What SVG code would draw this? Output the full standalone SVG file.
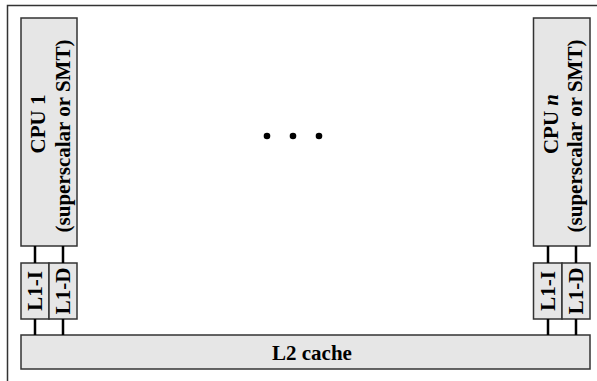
<svg xmlns="http://www.w3.org/2000/svg" width="597" height="381" viewBox="0 0 597 381">
<style>
.box{fill:#e6e6e6;stroke:#333;stroke-width:1.5}
.t{font-weight:bold;font-size:21px;fill:#000;text-anchor:middle}
.c{stroke:#000;stroke-width:2.5;fill:none}
</style>
<rect width="597" height="381" fill="#fff"/>
<path d="M7.5 381V5.5H597" fill="none" stroke="#333" stroke-width="1.5"/>
<g font-family="Liberation Serif, Times New Roman, serif">
<g id="cpu1">
<rect class="box" x="21" y="18" width="56" height="228"/>
<text class="t" transform="translate(45 124) rotate(-90)">CPU 1</text>
<text class="t" transform="translate(69.5 136) rotate(-90)">(superscalar or SMT)</text>
</g>
<g id="cpun">
<rect class="box" x="533.5" y="18" width="56.5" height="228"/>
<text class="t" transform="translate(557.5 124) rotate(-90)">CPU <tspan font-style="italic">n</tspan></text>
<text class="t" transform="translate(582 136) rotate(-90)">(superscalar or SMT)</text>
</g>
<g id="l1i1">
<rect class="box" x="21" y="263" width="28" height="56"/>
<text class="t" transform="translate(42 291) rotate(-90)">L1-I</text>
</g>
<g id="l1d1">
<rect class="box" x="49" y="263" width="28" height="56"/>
<text class="t" transform="translate(70 291) rotate(-90)">L1-D</text>
</g>
<g id="l1in">
<rect class="box" x="533.5" y="263" width="28.5" height="56"/>
<text class="t" transform="translate(554.5 291) rotate(-90)">L1-I</text>
</g>
<g id="l1dn">
<rect class="box" x="562" y="263" width="28" height="56"/>
<text class="t" transform="translate(583 291) rotate(-90)">L1-D</text>
</g>
<g id="l2">
<rect class="box" x="21" y="335" width="569" height="34"/>
<text class="t" x="312" y="360">L2 cache</text>
</g>
</g>
<g id="dots">
<circle cx="267" cy="136" r="3.3"/>
<circle cx="293" cy="136" r="3.3"/>
<circle cx="319" cy="136" r="3.3"/>
</g>
<g id="connectors">
<path class="c" d="M35 246V263M63 246V263M35 319V335M63 319V335M548 246V263M576 246V263M548 319V335M576 319V335"/>
</g>
</svg>
